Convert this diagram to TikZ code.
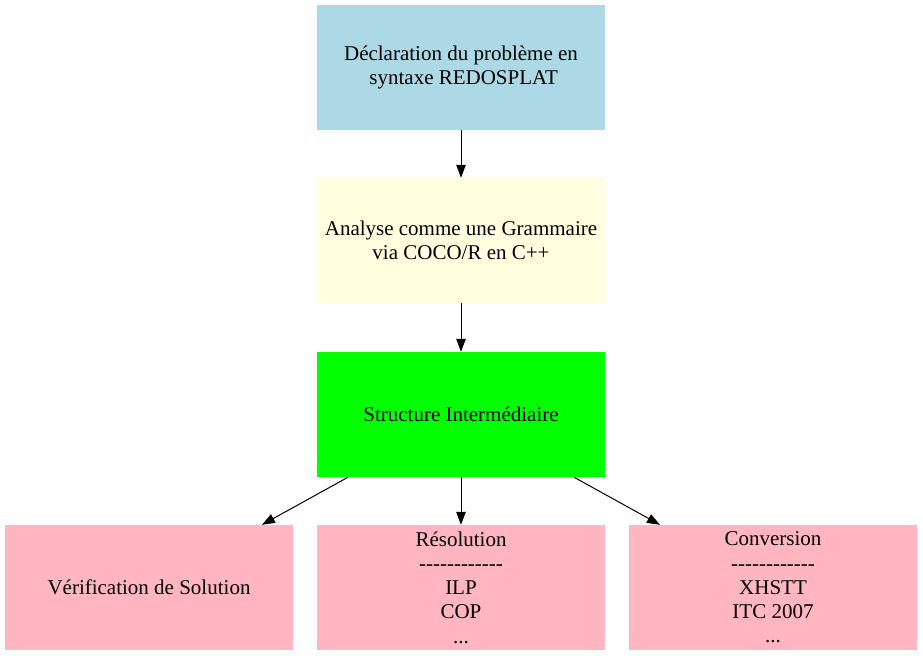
\documentclass[tikz,border=0pt]{standalone}
\usepackage{fontspec}
\setmainfont{Liberation Serif}
\usetikzlibrary{arrows.meta}
\definecolor{lblue}{HTML}{ADD8E6}
\definecolor{lyellow}{HTML}{FFFFE0}
\definecolor{lgreen}{HTML}{00FF00}
\definecolor{lpink}{HTML}{FFB6C1}
\newcommand{\hyphrow}{{-}{-}{-}{-}{-}{-}{-}{-}{-}{-}{-}{-}}
\begin{document}
\begin{tikzpicture}[x=1bp,y=-1bp,
  box/.style={rectangle, minimum width=288bp, minimum height=125bp, inner sep=0pt, align=center,
    font=\fontsize{21bp}{24.3bp}\selectfont},
  conn/.style={draw=black, line width=1bp, -{Triangle[length=13bp,width=9.5bp]}}]
\useasboundingbox (0,0) rectangle (923,656);
\node[box, fill=lblue] (decl) at (461,67.5) {Déclaration du problème en\\ \ syntaxe REDOSPLAT};
\node[box, fill=lyellow] (ana) at (461,240.5) {Analyse comme une Grammaire\\via COCO/R en C++};
\node[box, fill=lgreen] (struct) at (461,414.5) {Structure Intermédiaire};
\node[box, fill=lpink] (verif) at (149,587.5) {Vérification de Solution};
\node[box, fill=lpink] (res) at (461,587.5) {Résolution\\\hyphrow\\ILP\\COP\\...};
\node[box, fill=lpink] (conv) at (773,587.5) {Conversion\\\hyphrow\\XHSTT\\ITC 2007\\...};
\draw[conn] (decl) -- (ana);
\draw[conn] (ana) -- (struct);
\draw[conn] (struct) -- (verif);
\draw[conn] (struct) -- (res);
\draw[conn] (struct) -- (conv);
\end{tikzpicture}
\end{document}
